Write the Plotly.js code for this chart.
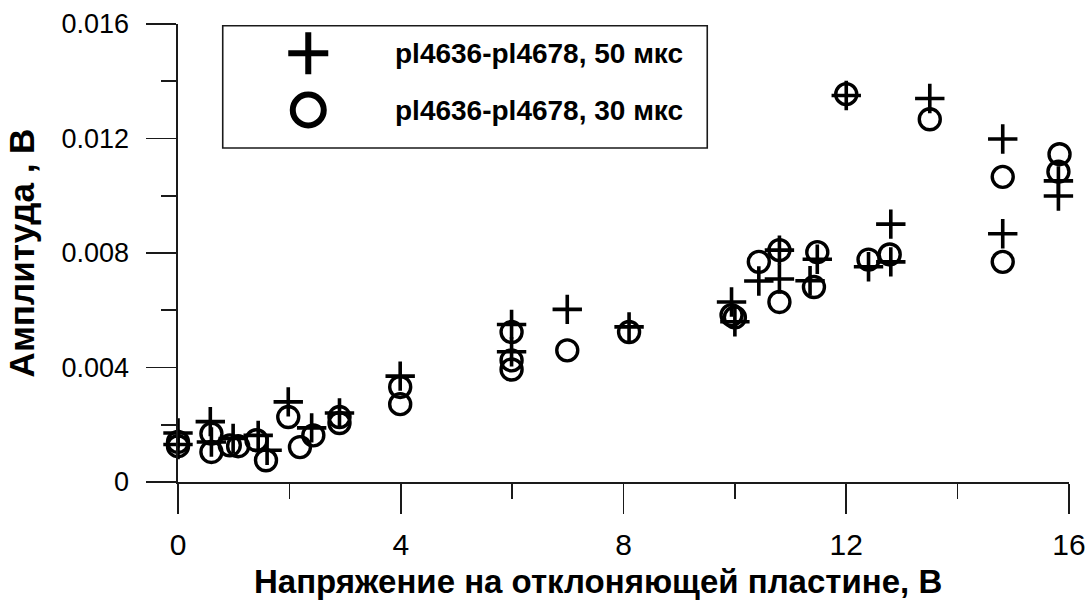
<!DOCTYPE html>
<html><head><meta charset="utf-8">
<script src="https://cdn.plot.ly/plotly-3.0.1.min.js"></script>
<style>html,body{margin:0;padding:0;background:#fff}</style>
</head><body><div id="chart" style="width:1090px;height:601px"></div>
<script>
const seriesNames = ['pl4636-pl4678, 50 мкс', 'pl4636-pl4678, 30 мкс'];

// 50 мкс (crosses)
const x50 = [0, 0, 0.58, 0.6, 0.99, 1.44, 1.6, 1.98, 2.4, 2.9, 3.99, 5.99, 5.99, 6.99, 8.1,
             9.94, 10.0, 10.43, 10.8, 10.8, 11.48, 11.35, 12.0, 12.4, 12.8, 12.8, 13.5,
             14.81, 14.81, 15.81, 15.81];
const y50 = [0.00171, 0.00131, 0.00211, 0.00140, 0.00152, 0.00163, 0.00111, 0.00280, 0.00189, 0.00241, 0.00370, 0.00550, 0.00455, 0.00603, 0.00542,
             0.00629, 0.00560, 0.00702, 0.00810, 0.00709, 0.00778, 0.00703, 0.01350, 0.00752, 0.00901, 0.00769, 0.01340,
             0.01198, 0.00867, 0.01052, 0.00999];

// 30 мкс (circles)
const x30 = [0, 0, 0.6, 0.6, 0.93, 1.08, 1.41, 1.58, 1.98, 2.19, 2.43, 2.9, 2.9, 3.99, 3.99,
             5.99, 5.99, 5.99, 6.99, 8.1, 9.94, 10.0, 10.43, 10.8, 10.8, 11.48, 11.42,
             12.0, 12.4, 12.78, 13.5, 14.81, 14.81, 15.83, 15.81];
const y30 = [0.00140, 0.00125, 0.00169, 0.00105, 0.00128, 0.00125, 0.00146, 0.00076, 0.00227, 0.00122, 0.00163, 0.00227, 0.00206, 0.00332, 0.00272,
             0.00524, 0.00425, 0.00393, 0.00460, 0.00524, 0.00583, 0.00575, 0.00769, 0.00810, 0.00629, 0.00803, 0.00681,
             0.01355, 0.00777, 0.00795, 0.01267, 0.01066, 0.00769, 0.01145, 0.01084];

const xTickVals = [0, 4, 8, 12, 16];
const xTickText = ['0', '4', '8', '12', '16'];
const yTickVals = [0, 0.004, 0.008, 0.012, 0.016];
const yTickText = ['0', '0.004', '0.008', '0.012', '0.016'];
const xTitle = 'Напряжение на отклоняющей пластине, В';
const yTitle = 'Амплитуда , В';

const FONT = 'Liberation Sans, Arial, sans-serif';

const traces = [
  {x: x50, y: y50, name: seriesNames[0], type: 'scatter', mode: 'markers', cliponaxis: false,
   marker: {symbol: 'cross-thin-open', size: 21, color: '#000', line: {color: '#000', width: 3.6}}},
  {x: x30, y: y30, name: seriesNames[1], type: 'scatter', mode: 'markers', cliponaxis: false,
   marker: {symbol: 'circle-open', size: 21, color: '#000', line: {color: '#000', width: 3.4}}}
];

const axisCommon = {
  showgrid: false, zeroline: false, showline: true, linecolor: '#1a1a1a', linewidth: 1.6,
  ticks: 'outside', ticklen: 30, tickwidth: 1.6, tickcolor: '#1a1a1a'
};

const layout = {
  width: 1090, height: 601,
  margin: {l: 178, r: 21, t: 24, b: 119},
  paper_bgcolor: '#fff', plot_bgcolor: '#fff',
  showlegend: false,
  xaxis: Object.assign({}, axisCommon, {
    range: [0, 16], tickvals: xTickVals, ticktext: xTickText,
    tickfont: {family: FONT, size: 30, color: '#000'},
    ticklabelstandoff: 5,
    minor: {dtick: 2, tick0: 0, ticks: 'outside', ticklen: 15, tickwidth: 1.6, tickcolor: '#1a1a1a', showgrid: false}
  }),
  yaxis: Object.assign({}, axisCommon, {
    range: [0, 0.016], tickvals: yTickVals, ticktext: yTickText,
    tickfont: {family: FONT, size: 27, color: '#000'},
    ticklabelstandoff: 12,
    minor: {dtick: 0.002, tick0: 0, ticks: 'outside', ticklen: 15, tickwidth: 1.6, tickcolor: '#1a1a1a', showgrid: false},
    title: {text: yTitle, standoff: 16,
      font: {family: FONT, size: 35, color: '#000', weight: 'bold'}}
  }),
  shapes: [
    {type: 'rect', xref: 'paper', yref: 'paper', x0: 0.0502, x1: 0.594, y0: 0.7293, y1: 0.9963,
     line: {color: '#1a1a1a', width: 1.6}, fillcolor: 'rgba(0,0,0,0)'},
    {type: 'path', xref: 'paper', yref: 'paper', xsizemode: 'pixel', ysizemode: 'pixel',
     xanchor: 0.1462, yanchor: 0.936, path: 'M-20,0H20M0,-21V21', line: {color: '#000', width: 6}},
    {type: 'circle', xref: 'paper', yref: 'paper', xsizemode: 'pixel', ysizemode: 'pixel',
     xanchor: 0.1462, yanchor: 0.8122, x0: -15.5, x1: 15.5, y0: -15.5, y1: 15.5,
     line: {color: '#000', width: 6}, fillcolor: 'rgba(0,0,0,0)'}
  ],
  annotations: [
    {xref: 'paper', yref: 'paper', x: 0.241, y: 0.936, xanchor: 'left', yanchor: 'middle', showarrow: false,
     text: seriesNames[0], font: {family: FONT, size: 28, color: '#000', weight: 'bold'}},
    {xref: 'paper', yref: 'paper', x: 0.241, y: 0.8122, xanchor: 'left', yanchor: 'middle', showarrow: false,
     text: seriesNames[1], font: {family: FONT, size: 28, color: '#000', weight: 'bold'}},
    {xref: 'paper', yref: 'paper', x: 0.4714, y: -0.218, xanchor: 'center', yanchor: 'middle', showarrow: false,
     text: xTitle, font: {family: FONT, size: 33, color: '#000', weight: 'bold'}}
  ]
};

Plotly.newPlot('chart', traces, layout, {staticPlot: true, displayModeBar: false});
</script>
</body></html>
